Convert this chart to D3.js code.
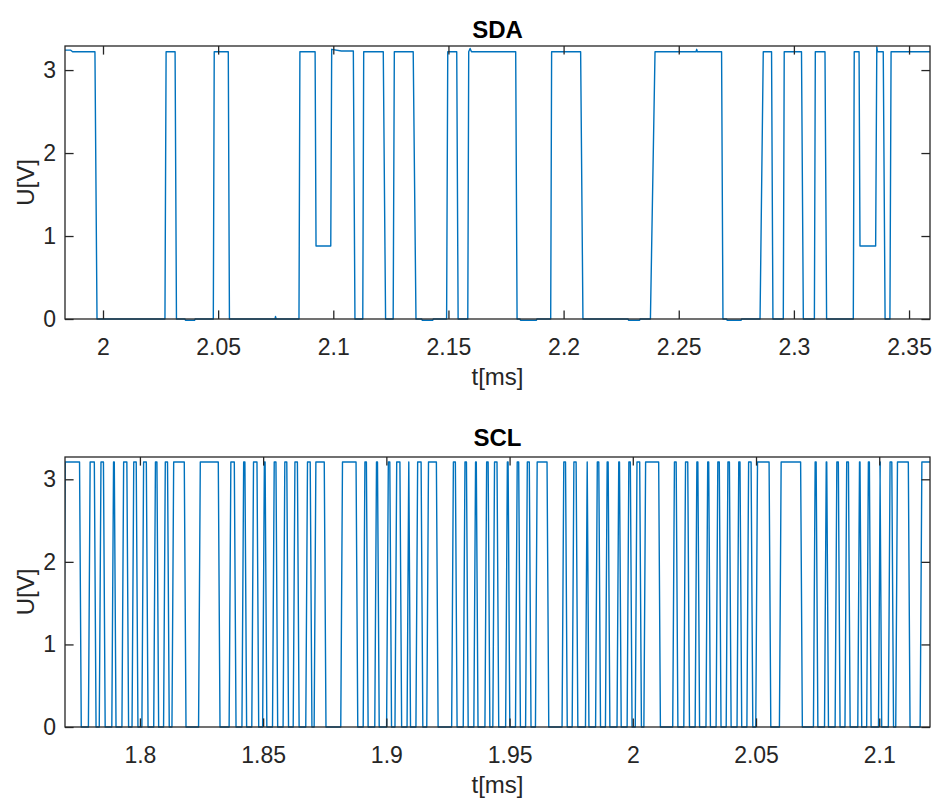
<!DOCTYPE html>
<html>
<head>
<meta charset="UTF-8">
<script src="https://cdn.jsdelivr.net/npm/d3@7"></script>
<style>
  body { margin: 0; background: #fff; }
  svg { display: block; font-family: "Liberation Sans", Arial, Helvetica, sans-serif; }
</style>
</head>
<body>
<svg></svg>
<script>
// SDA trace: time [ms] and voltage [V]
let sdaT = [1.9835, 1.9860, 1.9868, 1.9965, 1.9974,
  2.0269, 2.0274, 2.0313, 2.0319,
  2.0356, 2.0358, 2.0398, 2.0400,
  2.0479, 2.0483, 2.0544, 2.0549,
  2.0747, 2.0749, 2.0752,
  2.0851, 2.0855, 2.0921, 2.0925, 2.0989, 2.0993, 2.1035, 2.1087, 2.1094,
  2.1128, 2.1132, 2.1217, 2.1227,
  2.1260, 2.1265, 2.1347, 2.1359,
  2.1384, 2.1386, 2.1432, 2.1434,
  2.1492, 2.1497, 2.1536, 2.1542,
  2.1584, 2.1588, 2.1594, 2.1600, 2.1792, 2.1798,
  2.1811, 2.1813, 2.1882, 2.1884,
  2.1944, 2.1948, 2.2074, 2.2084,
  2.2280, 2.2282, 2.2330, 2.2332,
  2.2377, 2.2397, 2.2575, 2.2578, 2.2581, 2.2686, 2.2692,
  2.2708, 2.2710, 2.2771, 2.2773,
  2.2853, 2.2867, 2.2903, 2.2909,
  2.2954, 2.2958, 2.3033, 2.3041,
  2.3089, 2.3093, 2.3135, 2.3142,
  2.3258, 2.3262, 2.3283, 2.3287, 2.3355, 2.3360, 2.3363, 2.3388, 2.3396,
  2.3417, 2.3422, 2.3591];
let sdaU = [3.24, 3.24, 3.22, 3.22, 0,
  0, 3.22, 3.22, 0,
  0, -0.015, -0.015, 0,
  0, 3.22, 3.22, 0,
  0, 0.03, 0,
  0, 3.22, 3.22, 0.88, 0.88, 3.25, 3.23, 3.23, 0,
  0, 3.22, 3.22, 0,
  0, 3.22, 3.22, 0,
  0, -0.015, -0.015, 0,
  0, 3.22, 3.22, 0,
  0, 3.22, 3.26, 3.22, 3.22, 0,
  0, -0.015, -0.015, 0,
  0, 3.22, 3.22, 0,
  0, -0.015, -0.015, 0,
  0, 3.22, 3.22, 3.25, 3.22, 3.22, 0,
  0, -0.015, -0.015, 0,
  0, 3.22, 3.22, 0,
  0, 3.22, 3.22, 0,
  0, 3.22, 3.22, 0,
  0, 3.22, 3.22, 0.88, 0.88, 3.28, 3.22, 3.22, 0,
  0, 3.22, 3.22];

// SCL pulses: time [ms] where each pulse leaves 0 V and where it is back at 0 V
let sclRise = [1.7690, 1.7791, 1.7835, 1.7886, 1.7927, 1.7968, 1.8008, 1.8056, 1.8096, 1.8130, 1.8238,
  1.8362, 1.8414, 1.8454, 1.8498, 1.8538, 1.8581, 1.8622, 1.8673, 1.8707, 1.8815,
  1.8906, 1.8953, 1.9001, 1.9035, 1.9084, 1.9120, 1.9164, 1.9265, 1.9312, 1.9355,
  1.9400, 1.9432, 1.9484, 1.9524, 1.9565, 1.9605, 1.9713, 1.9754, 1.9808, 1.9849,
  1.9889, 1.9936, 1.9977, 2.0010, 2.0045, 2.0162, 2.0207, 2.0253, 2.0297, 2.0338,
  2.0379, 2.0423, 2.0463, 2.0499, 2.0595, 2.0733, 2.0778, 2.0821, 2.0861, 2.0913,
  2.0949, 2.0997, 2.1037, 2.1067, 2.1166];
let sclFall = [1.7762, 1.7822, 1.7859, 1.7903, 1.7954, 1.7992, 1.8033, 1.8076, 1.8119, 1.8187, 1.8325,
  1.8390, 1.8433, 1.8482, 1.8515, 1.8559, 1.8603, 1.8646, 1.8698, 1.8755, 1.8884,
  1.8926, 1.8971, 1.9021, 1.9062, 1.9098, 1.9148, 1.9210, 1.9287, 1.9332, 1.9372,
  1.9420, 1.9456, 1.9501, 1.9544, 1.9587, 1.9659, 1.9734, 1.9777, 1.9822, 1.9869,
  1.9907, 1.9953, 1.9997, 2.0035, 2.0112, 2.0183, 2.0230, 2.0271, 2.0315, 2.0358,
  2.0399, 2.0442, 2.0487, 2.0560, 2.0688, 2.0751, 2.0794, 2.0841, 2.0882, 2.0929,
  2.0967, 2.1010, 2.1058, 2.1125, 2.1230];
let sclHigh = 3.21;

let sdaXTicks = [2, 2.05, 2.1, 2.15, 2.2, 2.25, 2.3, 2.35];
let sclXTicks = [1.8, 1.85, 1.9, 1.95, 2, 2.05, 2.1];
let yTicks = [0, 1, 2, 3];

let width = 936, height = 805;
let svg = d3.select("svg").attr("width", width).attr("height", height);

let axisColor = "#262626";
let lineColor = "#0072BD";
let tickLen = 8.6;

// build SCL trace from the pulse list (short ramps on each edge, like the sampled scope data)
let ramp = 0.0007;
let sclPts = [];
sclRise.forEach((r, i) => {
    let f = sclFall[i];
    sclPts.push([r, 0], [r + ramp, sclHigh], [f - ramp, sclHigh], [f, 0]);
});
let sdaPts = sdaT.map((t, i) => [t, sdaU[i]]);

function panel(p) {
    let x = d3.scaleLinear().domain(p.xDomain).range([p.left, p.right]);
    let y = d3.scaleLinear().domain([0, p.yMax]).range([p.bottom, p.top]);
    let g = svg.append("g");

    g.append("clipPath").attr("id", p.id + "-clip")
        .append("rect")
        .attr("x", p.left).attr("y", p.top - 2)
        .attr("width", p.right - p.left).attr("height", p.bottom - p.top + 5);

    g.append("path")
        .datum(p.points)
        .attr("clip-path", "url(#" + p.id + "-clip)")
        .attr("fill", "none")
        .attr("stroke", lineColor)
        .attr("stroke-width", 1.4)
        .attr("stroke-linejoin", "round")
        .attr("d", d3.line().x(d => x(d[0])).y(d => y(d[1])));

    let fmt = d3.format("~g");

    // bottom axis with labels, ticks pointing inwards
    g.append("g")
        .attr("transform", "translate(0," + p.bottom + ")")
        .call(d3.axisBottom(x).tickValues(p.xTicks).tickFormat(fmt)
            .tickSizeInner(-tickLen).tickSizeOuter(0).tickPadding(20))
        .call(a => a.select(".domain").remove());
    g.append("g")
        .attr("transform", "translate(0," + p.top + ")")
        .call(d3.axisTop(x).tickValues(p.xTicks).tickFormat("")
            .tickSizeInner(-tickLen).tickSizeOuter(0))
        .call(a => a.select(".domain").remove());
    g.append("g")
        .attr("transform", "translate(" + p.left + ",0)")
        .call(d3.axisLeft(y).tickValues(yTicks).tickFormat(fmt)
            .tickSizeInner(-tickLen).tickSizeOuter(0).tickPadding(9))
        .call(a => a.select(".domain").remove());
    g.append("g")
        .attr("transform", "translate(" + p.right + ",0)")
        .call(d3.axisRight(y).tickValues(yTicks).tickFormat("")
            .tickSizeInner(-tickLen).tickSizeOuter(0))
        .call(a => a.select(".domain").remove());

    g.selectAll(".tick line").attr("stroke", axisColor).attr("stroke-width", 1.3);
    g.selectAll(".tick text")
        .attr("fill", axisColor)
        .style("font-size", "23px")
        .style("font-family", "'Liberation Sans', Arial, sans-serif");

    // box
    g.append("rect")
        .attr("x", p.left).attr("y", p.top)
        .attr("width", p.right - p.left).attr("height", p.bottom - p.top)
        .attr("fill", "none")
        .attr("stroke", axisColor)
        .attr("stroke-width", 1.3);

    let cx = (p.left + p.right) / 2;
    g.append("text")
        .attr("x", cx).attr("y", p.titleY)
        .attr("text-anchor", "middle")
        .style("font-size", "24px").style("font-weight", "bold")
        .attr("fill", "#000")
        .text(p.title);
    g.append("text")
        .attr("x", cx).attr("y", p.bottom + 66)
        .attr("text-anchor", "middle")
        .style("font-size", "24px")
        .attr("fill", axisColor)
        .text("t[ms]");
    g.append("text")
        .attr("transform", "translate(34," + ((p.top + p.bottom) / 2) + ") rotate(-90)")
        .attr("text-anchor", "middle")
        .style("font-size", "24px")
        .attr("fill", axisColor)
        .text("U[V]");
}

panel({ id: "sda", title: "SDA", points: sdaPts, xDomain: [1.9835, 2.3591], yMax: 3.29,
    xTicks: sdaXTicks, left: 65, right: 930, top: 46, bottom: 319, titleY: 38 });
panel({ id: "scl", title: "SCL", points: sclPts, xDomain: [1.7696, 2.1206], yMax: 3.27,
    xTicks: sclXTicks, left: 65, right: 930, top: 457, bottom: 727, titleY: 446 });
</script>
</body>
</html>
